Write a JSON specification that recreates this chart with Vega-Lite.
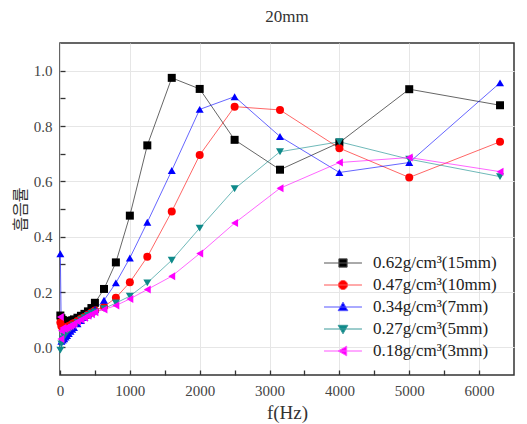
{
  "$schema": "https://vega.github.io/schema/vega-lite/v6.json",
  "width": 454,
  "height": 332,
  "autosize": "none",
  "padding": {"left": 60, "top": 43, "right": 13, "bottom": 49},
  "background": "white",
  "title": {"text": "20mm", "font": "Liberation Serif", "fontSize": 17, "fontWeight": "normal", "color": "#333", "offset": 17},
  "config": {
    "view": {"stroke": "#333", "strokeWidth": 1.5},
    "axis": {
      "labelFont": "Liberation Serif", "labelFontSize": 15, "labelColor": "#444",
      "titleFont": "Liberation Serif", "titleFontSize": 19, "titleFontWeight": "normal", "titleColor": "#333",
      "domain": false, "gridColor": "#e6e6e6", "gridWidth": 1,
      "ticks": true, "tickColor": "#333333", "tickWidth": 1.3, "tickSize": 5
    },
    "legend": {"labelFont": "Liberation Serif", "labelFontSize": 17, "labelColor": "#222"}
  },
  "datasets": {
    "d": [
      {"s": "0.62g/cm³(15mm)", "f": 5, "a": 0.115}, {"s": "0.62g/cm³(15mm)", "f": 20, "a": 0.105}, {"s": "0.62g/cm³(15mm)", "f": 40, "a": 0.099}, {"s": "0.62g/cm³(15mm)", "f": 60, "a": 0.096}, {"s": "0.62g/cm³(15mm)", "f": 80, "a": 0.094}, {"s": "0.62g/cm³(15mm)", "f": 100, "a": 0.093}, {"s": "0.62g/cm³(15mm)", "f": 125, "a": 0.093}, {"s": "0.62g/cm³(15mm)", "f": 150, "a": 0.095}, {"s": "0.62g/cm³(15mm)", "f": 175, "a": 0.098}, {"s": "0.62g/cm³(15mm)", "f": 200, "a": 0.101}, {"s": "0.62g/cm³(15mm)", "f": 250, "a": 0.107}, {"s": "0.62g/cm³(15mm)", "f": 300, "a": 0.114}, {"s": "0.62g/cm³(15mm)", "f": 350, "a": 0.121}, {"s": "0.62g/cm³(15mm)", "f": 400, "a": 0.13}, {"s": "0.62g/cm³(15mm)", "f": 450, "a": 0.142}, {"s": "0.62g/cm³(15mm)", "f": 500, "a": 0.161}, {"s": "0.62g/cm³(15mm)", "f": 630, "a": 0.211}, {"s": "0.62g/cm³(15mm)", "f": 800, "a": 0.307}, {"s": "0.62g/cm³(15mm)", "f": 1000, "a": 0.476}, {"s": "0.62g/cm³(15mm)", "f": 1250, "a": 0.73}, {"s": "0.62g/cm³(15mm)", "f": 1600, "a": 0.974}, {"s": "0.62g/cm³(15mm)", "f": 2000, "a": 0.934}, {"s": "0.62g/cm³(15mm)", "f": 2500, "a": 0.75}, {"s": "0.62g/cm³(15mm)", "f": 3150, "a": 0.642}, {"s": "0.62g/cm³(15mm)", "f": 4000, "a": 0.74}, {"s": "0.62g/cm³(15mm)", "f": 5000, "a": 0.933}, {"s": "0.62g/cm³(15mm)", "f": 6300, "a": 0.875},

      {"s": "0.47g/cm³(10mm)", "f": 5, "a": 0.09}, {"s": "0.47g/cm³(10mm)", "f": 20, "a": 0.076}, {"s": "0.47g/cm³(10mm)", "f": 40, "a": 0.07}, {"s": "0.47g/cm³(10mm)", "f": 60, "a": 0.07}, {"s": "0.47g/cm³(10mm)", "f": 80, "a": 0.072}, {"s": "0.47g/cm³(10mm)", "f": 100, "a": 0.074}, {"s": "0.47g/cm³(10mm)", "f": 125, "a": 0.077}, {"s": "0.47g/cm³(10mm)", "f": 150, "a": 0.08}, {"s": "0.47g/cm³(10mm)", "f": 175, "a": 0.084}, {"s": "0.47g/cm³(10mm)", "f": 200, "a": 0.088}, {"s": "0.47g/cm³(10mm)", "f": 250, "a": 0.095}, {"s": "0.47g/cm³(10mm)", "f": 300, "a": 0.103}, {"s": "0.47g/cm³(10mm)", "f": 350, "a": 0.11}, {"s": "0.47g/cm³(10mm)", "f": 400, "a": 0.118}, {"s": "0.47g/cm³(10mm)", "f": 450, "a": 0.126}, {"s": "0.47g/cm³(10mm)", "f": 500, "a": 0.133}, {"s": "0.47g/cm³(10mm)", "f": 630, "a": 0.147}, {"s": "0.47g/cm³(10mm)", "f": 800, "a": 0.179}, {"s": "0.47g/cm³(10mm)", "f": 1000, "a": 0.235}, {"s": "0.47g/cm³(10mm)", "f": 1250, "a": 0.327}, {"s": "0.47g/cm³(10mm)", "f": 1600, "a": 0.491}, {"s": "0.47g/cm³(10mm)", "f": 2000, "a": 0.695}, {"s": "0.47g/cm³(10mm)", "f": 2500, "a": 0.87}, {"s": "0.47g/cm³(10mm)", "f": 3150, "a": 0.858}, {"s": "0.47g/cm³(10mm)", "f": 4000, "a": 0.72}, {"s": "0.47g/cm³(10mm)", "f": 5000, "a": 0.614}, {"s": "0.47g/cm³(10mm)", "f": 6300, "a": 0.743},

      {"s": "0.34g/cm³(7mm)", "f": 5, "a": 0.338}, {"s": "0.34g/cm³(7mm)", "f": 20, "a": 0.022}, {"s": "0.34g/cm³(7mm)", "f": 40, "a": 0.026}, {"s": "0.34g/cm³(7mm)", "f": 60, "a": 0.031}, {"s": "0.34g/cm³(7mm)", "f": 80, "a": 0.037}, {"s": "0.34g/cm³(7mm)", "f": 100, "a": 0.043}, {"s": "0.34g/cm³(7mm)", "f": 125, "a": 0.05}, {"s": "0.34g/cm³(7mm)", "f": 150, "a": 0.058}, {"s": "0.34g/cm³(7mm)", "f": 175, "a": 0.065}, {"s": "0.34g/cm³(7mm)", "f": 200, "a": 0.072}, {"s": "0.34g/cm³(7mm)", "f": 250, "a": 0.085}, {"s": "0.34g/cm³(7mm)", "f": 300, "a": 0.097}, {"s": "0.34g/cm³(7mm)", "f": 350, "a": 0.108}, {"s": "0.34g/cm³(7mm)", "f": 400, "a": 0.118}, {"s": "0.34g/cm³(7mm)", "f": 450, "a": 0.127}, {"s": "0.34g/cm³(7mm)", "f": 500, "a": 0.137}, {"s": "0.34g/cm³(7mm)", "f": 630, "a": 0.17}, {"s": "0.34g/cm³(7mm)", "f": 800, "a": 0.233}, {"s": "0.34g/cm³(7mm)", "f": 1000, "a": 0.323}, {"s": "0.34g/cm³(7mm)", "f": 1250, "a": 0.452}, {"s": "0.34g/cm³(7mm)", "f": 1600, "a": 0.639}, {"s": "0.34g/cm³(7mm)", "f": 2000, "a": 0.86}, {"s": "0.34g/cm³(7mm)", "f": 2500, "a": 0.906}, {"s": "0.34g/cm³(7mm)", "f": 3150, "a": 0.762}, {"s": "0.34g/cm³(7mm)", "f": 4000, "a": 0.632}, {"s": "0.34g/cm³(7mm)", "f": 5000, "a": 0.668}, {"s": "0.34g/cm³(7mm)", "f": 6300, "a": 0.956},

      {"s": "0.27g/cm³(5mm)", "f": 5, "a": -0.01}, {"s": "0.27g/cm³(5mm)", "f": 20, "a": 0.012}, {"s": "0.27g/cm³(5mm)", "f": 40, "a": 0.03}, {"s": "0.27g/cm³(5mm)", "f": 60, "a": 0.04}, {"s": "0.27g/cm³(5mm)", "f": 80, "a": 0.048}, {"s": "0.27g/cm³(5mm)", "f": 100, "a": 0.055}, {"s": "0.27g/cm³(5mm)", "f": 125, "a": 0.062}, {"s": "0.27g/cm³(5mm)", "f": 150, "a": 0.068}, {"s": "0.27g/cm³(5mm)", "f": 175, "a": 0.074}, {"s": "0.27g/cm³(5mm)", "f": 200, "a": 0.08}, {"s": "0.27g/cm³(5mm)", "f": 250, "a": 0.09}, {"s": "0.27g/cm³(5mm)", "f": 300, "a": 0.099}, {"s": "0.27g/cm³(5mm)", "f": 350, "a": 0.107}, {"s": "0.27g/cm³(5mm)", "f": 400, "a": 0.115}, {"s": "0.27g/cm³(5mm)", "f": 450, "a": 0.122}, {"s": "0.27g/cm³(5mm)", "f": 500, "a": 0.128}, {"s": "0.27g/cm³(5mm)", "f": 630, "a": 0.14}, {"s": "0.27g/cm³(5mm)", "f": 800, "a": 0.16}, {"s": "0.27g/cm³(5mm)", "f": 1000, "a": 0.185}, {"s": "0.27g/cm³(5mm)", "f": 1250, "a": 0.233}, {"s": "0.27g/cm³(5mm)", "f": 1600, "a": 0.315}, {"s": "0.27g/cm³(5mm)", "f": 2000, "a": 0.431}, {"s": "0.27g/cm³(5mm)", "f": 2500, "a": 0.573}, {"s": "0.27g/cm³(5mm)", "f": 3150, "a": 0.707}, {"s": "0.27g/cm³(5mm)", "f": 4000, "a": 0.743}, {"s": "0.27g/cm³(5mm)", "f": 5000, "a": 0.68}, {"s": "0.27g/cm³(5mm)", "f": 6300, "a": 0.617},

      {"s": "0.18g/cm³(3mm)", "f": 5, "a": 0.11}, {"s": "0.18g/cm³(3mm)", "f": 12, "a": 0.03}, {"s": "0.18g/cm³(3mm)", "f": 20, "a": 0.06}, {"s": "0.18g/cm³(3mm)", "f": 40, "a": 0.07}, {"s": "0.18g/cm³(3mm)", "f": 60, "a": 0.066}, {"s": "0.18g/cm³(3mm)", "f": 80, "a": 0.07}, {"s": "0.18g/cm³(3mm)", "f": 100, "a": 0.072}, {"s": "0.18g/cm³(3mm)", "f": 125, "a": 0.075}, {"s": "0.18g/cm³(3mm)", "f": 150, "a": 0.078}, {"s": "0.18g/cm³(3mm)", "f": 175, "a": 0.082}, {"s": "0.18g/cm³(3mm)", "f": 200, "a": 0.086}, {"s": "0.18g/cm³(3mm)", "f": 250, "a": 0.093}, {"s": "0.18g/cm³(3mm)", "f": 300, "a": 0.1}, {"s": "0.18g/cm³(3mm)", "f": 350, "a": 0.107}, {"s": "0.18g/cm³(3mm)", "f": 400, "a": 0.114}, {"s": "0.18g/cm³(3mm)", "f": 450, "a": 0.12}, {"s": "0.18g/cm³(3mm)", "f": 500, "a": 0.127}, {"s": "0.18g/cm³(3mm)", "f": 630, "a": 0.137}, {"s": "0.18g/cm³(3mm)", "f": 800, "a": 0.151}, {"s": "0.18g/cm³(3mm)", "f": 1000, "a": 0.175}, {"s": "0.18g/cm³(3mm)", "f": 1250, "a": 0.209}, {"s": "0.18g/cm³(3mm)", "f": 1600, "a": 0.257}, {"s": "0.18g/cm³(3mm)", "f": 2000, "a": 0.339}, {"s": "0.18g/cm³(3mm)", "f": 2500, "a": 0.449}, {"s": "0.18g/cm³(3mm)", "f": 3150, "a": 0.575}, {"s": "0.18g/cm³(3mm)", "f": 4000, "a": 0.668}, {"s": "0.18g/cm³(3mm)", "f": 5000, "a": 0.686}, {"s": "0.18g/cm³(3mm)", "f": 6300, "a": 0.635}
    ]
  },
  "data": {"name": "d"},
  "encoding": {
    "x": {
      "field": "f", "type": "quantitative",
      "scale": {"domain": [0, 6500], "nice": false, "zero": false},
      "axis": {
        "title": "f(Hz)",
        "values": [0, 500, 1000, 1500, 2000, 2500, 3000, 3500, 4000, 4500, 5000, 5500, 6000],
        "labelExpr": "datum.value % 1000 === 0 ? datum.label : ''",
        "offset": -5,
        "gridOpacity": {"condition": {"test": "datum.value % 1000 === 0", "value": 1}, "value": 0},
        "labelPadding": 8,
        "titlePadding": 5,
        "format": "d",
        "labelFlush": false
      }
    },
    "y": {
      "field": "a", "type": "quantitative",
      "scale": {"domain": [-0.1, 1.1], "nice": false, "zero": false},
      "axis": {
        "title": "흡음률",
        "titleFont": "Noto Sans CJK KR",
        "titleFontSize": 16,
        "values": [0, 0.1, 0.2, 0.3, 0.4, 0.5, 0.6, 0.7, 0.8, 0.9, 1.0],
        "format": ".1f",
        "offset": -5,
        "labelExpr": "round(datum.value * 10) % 2 === 0 ? datum.label : ''",
        "gridOpacity": {"condition": {"test": "round(datum.value * 10) % 2 === 0", "value": 1}, "value": 0},
        "labelPadding": 8,
        "titlePadding": 5,
        "labelFlush": false
      }
    }
  },
  "layer": [
    {
      "mark": {"type": "line", "strokeWidth": 1, "opacity": 0.6},
      "encoding": {
        "color": {"field": "s", "type": "nominal", "legend": null,
          "scale": {"domain": ["0.62g/cm³(15mm)", "0.47g/cm³(10mm)", "0.34g/cm³(7mm)", "0.27g/cm³(5mm)", "0.18g/cm³(3mm)"],
                    "range": ["#000000", "#ff0000", "#0000ff", "#0f8a8a", "#ff00ff"]}},
        "order": {"field": "f", "type": "quantitative"}
      }
    },
    {
      "mark": {"type": "point", "filled": true, "opacity": 1, "size": 64},
      "encoding": {
        "color": {"field": "s", "type": "nominal", "legend": null},
        "shape": {"field": "s", "type": "nominal", "legend": null,
          "scale": {"domain": ["0.62g/cm³(15mm)", "0.47g/cm³(10mm)", "0.34g/cm³(7mm)", "0.27g/cm³(5mm)", "0.18g/cm³(3mm)"],
                    "range": ["square", "circle", "triangle-up", "triangle-down", "triangle-left"]}}
      }
    },
    {
      "mark": {"type": "point", "opacity": 0, "size": 529, "strokeWidth": 1},
      "encoding": {
        "fill": {"field": "s", "type": "nominal",
          "scale": {"domain": ["0.62g/cm³(15mm)", "0.47g/cm³(10mm)", "0.34g/cm³(7mm)", "0.27g/cm³(5mm)", "0.18g/cm³(3mm)"],
                    "range": ["#000000", "#ff0000", "#0000ff", "#0f8a8a", "#ff00ff"]},
          "legend": {
            "title": null, "orient": "none", "legendX": 271, "legendY": 208,
            "symbolOpacity": 1, "symbolSize": 529, "symbolStrokeWidth": 1, "rowPadding": 2, "labelOffset": 18, "padding": 0
          }},
        "stroke": {"field": "s", "type": "nominal",
          "scale": {"domain": ["0.62g/cm³(15mm)", "0.47g/cm³(10mm)", "0.34g/cm³(7mm)", "0.27g/cm³(5mm)", "0.18g/cm³(3mm)"],
                    "range": ["#555555", "#ff5555", "#5555ff", "#3a9a9a", "#ff55ff"]},
          "legend": {
            "title": null, "orient": "none", "legendX": 271, "legendY": 208,
            "symbolOpacity": 1, "symbolSize": 529, "symbolStrokeWidth": 1, "rowPadding": 2, "labelOffset": 18, "padding": 0
          }},
        "shape": {"field": "s", "type": "nominal",
          "scale": {"domain": ["0.62g/cm³(15mm)", "0.47g/cm³(10mm)", "0.34g/cm³(7mm)", "0.27g/cm³(5mm)", "0.18g/cm³(3mm)"],
                    "range": [
                      "M-1.65,0H1.65M-0.36,-0.36H0.36V0.36H-0.36Z",
                      "M-1.65,0H1.65M-0.4,0A0.4,0.4,0,1,0,0.4,0A0.4,0.4,0,1,0,-0.4,0Z",
                      "M-1.65,0H1.65M-0.42,0.32L0,-0.42L0.42,0.32Z",
                      "M-1.65,0H1.65M-0.42,-0.32L0,0.42L0.42,-0.32Z",
                      "M-1.65,0H1.65M0.32,-0.42L-0.42,0L0.32,0.42Z"
                    ]},
          "legend": {
            "title": null, "orient": "none", "legendX": 271, "legendY": 208,
            "symbolOpacity": 1, "symbolSize": 529, "symbolStrokeWidth": 1, "rowPadding": 2, "labelOffset": 18, "padding": 0
          }}
      }
    }
  ],
  "resolve": {"scale": {"shape": "independent", "fill": "independent", "stroke": "independent"}}
}
